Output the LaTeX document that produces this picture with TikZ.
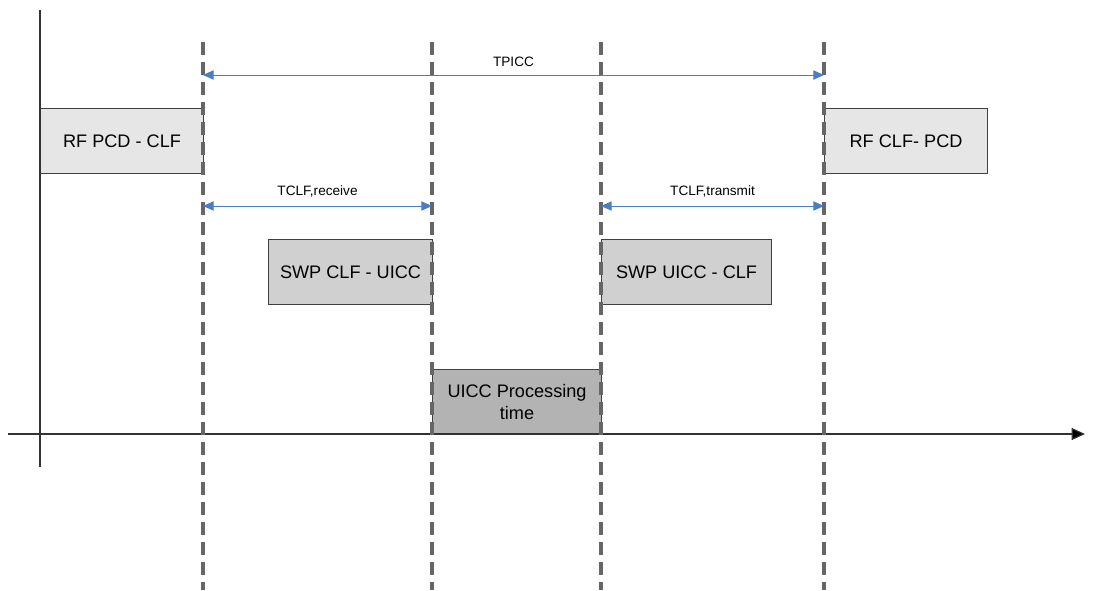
\documentclass[tikz,border=0pt]{standalone}
\usepackage{fontspec}
\setmainfont{Liberation Sans}
\usetikzlibrary{arrows.meta}
\definecolor{dashgray}{HTML}{666666}
\definecolor{arrowblue}{HTML}{4A7EC4}
\definecolor{boxA}{HTML}{E6E6E6}
\definecolor{boxB}{HTML}{D0D0D0}
\definecolor{boxC}{HTML}{B3B3B3}
\tikzset{
  timebox/.style={draw=black!75, line width=0.8pt, minimum height=65*0.75pt, inner sep=0pt, align=center, font=\fontsize{13.6}{16.5}\selectfont},
  period/.style={draw=dashgray, line width=2.6pt, dash pattern=on 10pt off 5pt},
  span/.style={draw=arrowblue, line width=0.7pt, {Triangle[length=8pt,width=7pt,fill=arrowblue]}-{Triangle[length=8pt,width=7pt,fill=arrowblue]}},
  spanlabel/.style={font=\fontsize{10.2}{12}\selectfont, inner sep=0pt},
  axis/.style={draw=black!80, line width=0.8pt},
}
\begin{document}
\begin{tikzpicture}[x=0.75pt,y=-0.75pt]
\useasboundingbox (0,0) rectangle (1102,590);
% boxes
\node[timebox, fill=boxA, minimum width=163*0.75pt, anchor=north west] (rfin) at (40,108) {RF PCD - CLF};
\node[timebox, fill=boxA, minimum width=163*0.75pt, anchor=north west] (rfout) at (824,108) {RF CLF- PCD};
\node[timebox, fill=boxB, minimum width=164*0.75pt, anchor=north west] (swpin) at (268,239) {SWP CLF - UICC};
\node[timebox, fill=boxB, minimum width=170*0.75pt, anchor=north west] (swpout) at (601,239) {SWP UICC - CLF};
\node[timebox, fill=boxC, minimum width=169*0.75pt, anchor=north west] (proc) at (432,369) {UICC Processing\\time};
% axes
\coordinate (ytop) at (40,10);
\coordinate (ybot) at (40,467);
\coordinate (xl) at (8,434);
\coordinate (xr) at (1085,434);
\draw[axis] (ytop) -- (ybot);
\draw[axis, -{Triangle[length=10pt,width=9pt,fill=black]}] (xl) -- (xr);
% dashed time marks
\foreach \n/\x in {a/203,b/432,c/601,d/824}{
  \coordinate (t\n) at (\x,42);
  \coordinate (b\n) at (\x,590);
  \draw[period] (t\n) -- (b\n);
}
% spans
\coordinate (p1) at (203,75);
\coordinate (p2) at (824,75);
\draw[span] (p1) -- node[spanlabel, above=6pt] (tpicc) {TPICC} (p2);
\coordinate (r1) at (203,206);
\coordinate (r2) at (432,206);
\draw[span] (r1) -- node[spanlabel, above=6pt] (trecv) {TCLF,receive} (r2);
\coordinate (s1) at (601,206);
\coordinate (s2) at (824,206);
\draw[span] (s1) -- node[spanlabel, above=6pt] (ttx) {TCLF,transmit} (s2);
\end{tikzpicture}
\end{document}
